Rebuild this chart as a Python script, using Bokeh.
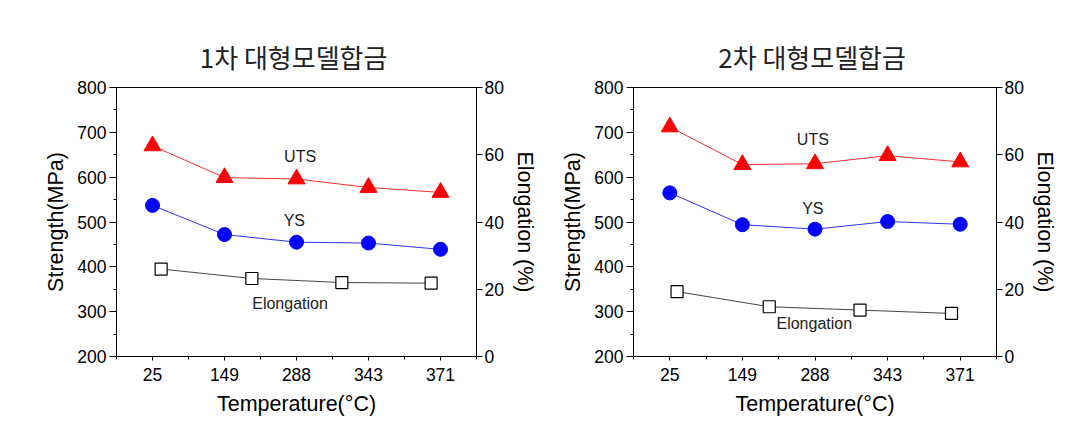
from bokeh.plotting import figure
from bokeh.models import (Range1d, LinearAxis, FixedTicker, SingleIntervalTicker,
                          Label, ColumnDataSource, Title)
from bokeh.layouts import row
from bokeh.embed import file_html
from bokeh.resources import INLINE

# ---------------- data ----------------
temps = ["25", "149", "288", "343", "371"]

titles = ["1차  대형모델합금", "2차  대형모델합금"]

uts_1 = [670, 599, 596, 577, 566]
ys_1 = [537, 472, 455, 453, 439]
elong_x_1 = [0.12, 1.38, 2.63, 3.87]
elong_1 = [26.0, 23.2, 22.0, 21.8]

uts_2 = [712, 628, 630, 648, 634]
ys_2 = [565, 494, 484, 501, 495]
elong_x_2 = [0.10, 1.37, 2.62, 3.88]
elong_2 = [19.3, 14.8, 13.8, 12.8]

strength_ticks = [200, 300, 400, 500, 600, 700, 800]
elong_ticks = [0, 20, 40, 60, 80]

FONT = "Liberation Sans"
CJK = "Noto Sans CJK KR"


def make_fig(title, uts, ys, ex, el, frame_w, border_l, lab):
    p = figure(frame_width=frame_w, frame_height=269,
               min_border_left=border_l, min_border_right=60,
               min_border_top=87, min_border_bottom=62,
               x_range=Range1d(-0.5, 4.5), y_range=Range1d(200, 800),
               output_backend="svg", toolbar_location=None,
               background_fill_color="white", border_fill_color="white")
    p.title.text = title
    p.title.align = "center"
    p.title.text_font = CJK
    p.title.text_font_size = "26px"
    p.title.text_font_style = "normal"
    p.title.text_color = "#222222"
    # small spacer between title and frame
    p.add_layout(Title(text=" ", text_font_size="5px", standoff=0), "above")

    p.grid.visible = False
    p.outline_line_color = "black"
    p.outline_line_alpha = 1.0
    p.outline_line_width = 1

    p.extra_y_ranges = {"el": Range1d(0, 80)}

    # bottom axis
    xa = p.xaxis[0]
    xa.ticker = FixedTicker(ticks=list(range(len(temps))),
                            minor_ticks=[-0.5, 0.5, 1.5, 2.5, 3.5, 4.5])
    xa.major_label_overrides = {i: t for i, t in enumerate(temps)}
    xa.axis_label = "Temperature(°C)"
    # left axis
    ya = p.yaxis[0]
    ya.ticker = SingleIntervalTicker(interval=100, num_minor_ticks=2)
    ya.axis_label = "Strength(MPa)"
    # right axis
    ra = LinearAxis(y_range_name="el", ticker=FixedTicker(ticks=elong_ticks, minor_ticks=[]),
                    axis_label="Elongation (%)")
    p.add_layout(ra, "right")

    for ax in [xa, ya, ra]:
        ax.axis_line_color = "black"
        ax.major_tick_line_color = "black"
        ax.minor_tick_line_color = "black"
        ax.major_tick_in = 0
        ax.minor_tick_in = 0
        ax.major_label_text_font = FONT
        ax.major_label_text_font_size = "17.5px"
        ax.major_label_text_color = "black"
        ax.axis_label_text_font = FONT
        ax.axis_label_text_font_size = "21.5px"
        ax.axis_label_text_font_style = "normal"
        ax.axis_label_text_color = "black"
    xa.major_tick_out = 4
    xa.minor_tick_out = 3
    xa.major_label_standoff = 7
    xa.axis_label_standoff = 8
    ya.major_tick_out = 7
    ya.minor_tick_out = 3
    ya.major_label_standoff = 3
    ya.axis_label_standoff = 6
    ra.major_tick_out = 6
    ra.major_label_standoff = 2
    ra.axis_label_standoff = 6

    xs = list(range(len(temps)))
    s = ColumnDataSource(dict(x=xs, uts=uts, ys=ys))
    e = ColumnDataSource(dict(x=ex, el=el))

    p.line("x", "uts", source=s, line_color="#ff3030", line_width=1)
    p.line("x", "ys", source=s, line_color="#3030ff", line_width=1)
    p.line("x", "el", source=e, line_color="#444444", line_width=1, y_range_name="el")
    p.scatter("x", "uts", source=s, marker="triangle", size=17,
              fill_color="#ff0000", line_color="#ff0000")
    p.scatter("x", "ys", source=s, marker="circle", size=14,
              fill_color="#0000ff", line_color="#0000ff")
    p.scatter("x", "el", source=e, marker="square", size=12, y_range_name="el",
              fill_color="white", line_color="black", line_width=1.2)

    for (tx, ty, txt) in lab:
        p.add_layout(Label(x=tx, y=ty, text=txt, text_font=FONT, text_font_size="16px",
                           text_color="#222222", text_align="center",
                           text_baseline="middle"))
    return p


labels_1 = [(2.05, 645, "UTS"), (1.97, 504, "YS"), (1.91, 319, "Elongation")]
labels_2 = [(1.97, 685, "UTS"), (1.97, 531, "YS"), (1.99, 274, "Elongation")]

p1 = make_fig(titles[0], uts_1, ys_1, elong_x_1, elong_1, 360, 116, labels_1)
p2 = make_fig(titles[1], uts_2, ys_2, elong_x_2, elong_2, 363, 94, labels_2)

layout = row(p1, p2)
open("out.html", "w").write(file_html(layout, INLINE))
